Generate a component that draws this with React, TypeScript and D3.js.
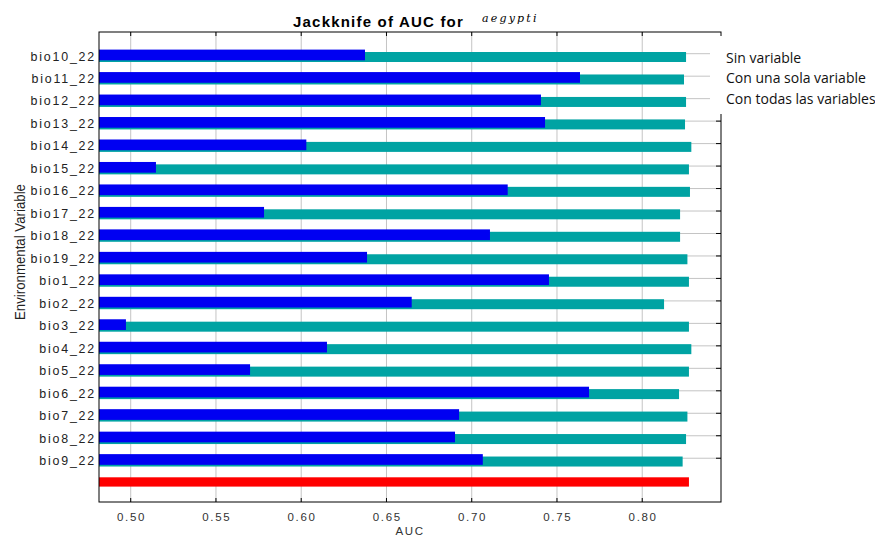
import React from "react";
import * as d3 from "d3";

const variables = [
  "bio10_22", "bio11_22", "bio12_22", "bio13_22", "bio14_22", "bio15_22",
  "bio16_22", "bio17_22", "bio18_22", "bio19_22", "bio1_22", "bio2_22",
  "bio3_22", "bio4_22", "bio5_22", "bio6_22", "bio7_22", "bio8_22", "bio9_22",
];
// AUC without the variable (teal)
const withoutVar = [
  0.8257, 0.8245, 0.8257, 0.8251, 0.8288, 0.8274, 0.828, 0.8222, 0.8222, 0.8265,
  0.8274, 0.8128, 0.8274, 0.8288, 0.8274, 0.8216, 0.8265, 0.8257, 0.8237,
];
// AUC with only the variable (blue)
const onlyVar = [
  0.6374, 0.7635, 0.7406, 0.743, 0.603, 0.5148, 0.7211, 0.5782, 0.7107, 0.6386,
  0.7453, 0.6648, 0.4972, 0.6151, 0.57, 0.7688, 0.6926, 0.6902, 0.7065,
];
const allVars = 0.8274;
const xTicks = [0.5, 0.55, 0.6, 0.65, 0.7, 0.75, 0.8];
const legendLabels = ["Sin variable", "Con una sola variable", "Con todas las variables"];

const W = 875;
const H = 541;
const left = 99, right = 721, top = 32, bottom = 502;

export default function App() {
  const x = d3.scaleLinear().domain([0.4814, 0.8462]).range([left, right]);
  const y = d3.scalePoint<string>().domain([...variables, "all"]).range([55, 482]);
  const lab = "'Liberation Sans', Arial, sans-serif";

  return (
    <svg width={W} height={H} style={{ position: "absolute", left: 0, top: 0, background: "#fff" }}>
      {/* grid */}
      {xTicks.map((t) => (
        <line key={"gx" + t} x1={x(t)} x2={x(t)} y1={top} y2={bottom} stroke="#c4c4c4" />
      ))}
      {variables.map((v) => (
        <line key={"gy" + v} x1={left} x2={right} y1={y(v)! - 1.3} y2={y(v)! - 1.3} stroke="#c4c4c4" />
      ))}

      {/* bars */}
      {variables.map((v, i) => (
        <rect key={"t" + v} x={left} y={y(v)! - 3} width={x(withoutVar[i]) - left} height={10} fill="#00a3a3" />
      ))}
      {variables.map((v, i) => (
        <rect key={"b" + v} x={left} y={y(v)! - 5.4} width={x(onlyVar[i]) - left} height={10.7} fill="#0000f2" />
      ))}
      <rect x={left} y={y("all")! - 4.7} width={x(allVars) - left} height={9.3} fill="#ff0000" />

      {/* ticks */}
      {xTicks.map((t) => (
        <g key={"tk" + t}>
          <line x1={x(t)} x2={x(t)} y1={top} y2={top + 4} stroke="#000" />
          <line x1={x(t)} x2={x(t)} y1={bottom - 4} y2={bottom} stroke="#000" />
          <text x={x(t) + 0.9} y={520.5} textAnchor="middle" fontFamily={lab} fontSize={11.5}
            letterSpacing={1.7} fill="#333">{t.toFixed(2)}</text>
        </g>
      ))}
      {variables.map((v) => (
        <line key={"rt" + v} x1={right - 5} x2={right} y1={y(v)! - 1.3} y2={y(v)! - 1.3} stroke="#000" />
      ))}

      {/* frame */}
      <rect x={left} y={top} width={right - left} height={bottom - top} fill="none" stroke="#000" />

      {/* category labels */}
      {variables.map((v) => (
        <text key={"l" + v} x={96} y={y(v)! + 5.5} textAnchor="end" fontFamily={lab} fontSize={12.4}
          letterSpacing={1.8} fill="#222">{v}</text>
      ))}

      {/* axis titles */}
      <text x={410} y={535} textAnchor="middle" fontFamily={lab} fontSize={11.5} letterSpacing={1.6}
        fill="#333">AUC</text>
      <text transform="translate(25,252) rotate(-90)" textAnchor="middle" fontFamily={lab}
        fontSize={14} textLength={136} lengthAdjust="spacingAndGlyphs" fill="#222">
        Environmental Variable
      </text>

      {/* title */}
      <text x={293} y={27} fontFamily={lab} fontSize={15} fontWeight="bold" letterSpacing={1.2}
        fill="#000">Jackknife of AUC for</text>
      <text x={482} y={22} fontFamily="'DejaVu Serif', serif" fontStyle="italic" fontSize={11}
        letterSpacing={2.2} fill="#000">aegypti</text>

      {/* legend (white patch over plot corner) */}
      <rect x={710} y={36} width={W - 710} height={78} fill="#fff" />
      {legendLabels.map((s, i) => (
        <text key={s} x={726} y={62.5 + i * 20.5} fontFamily="'Open Sans', sans-serif" fontSize={14}
          fill="#111">{s}</text>
      ))}
    </svg>
  );
}
